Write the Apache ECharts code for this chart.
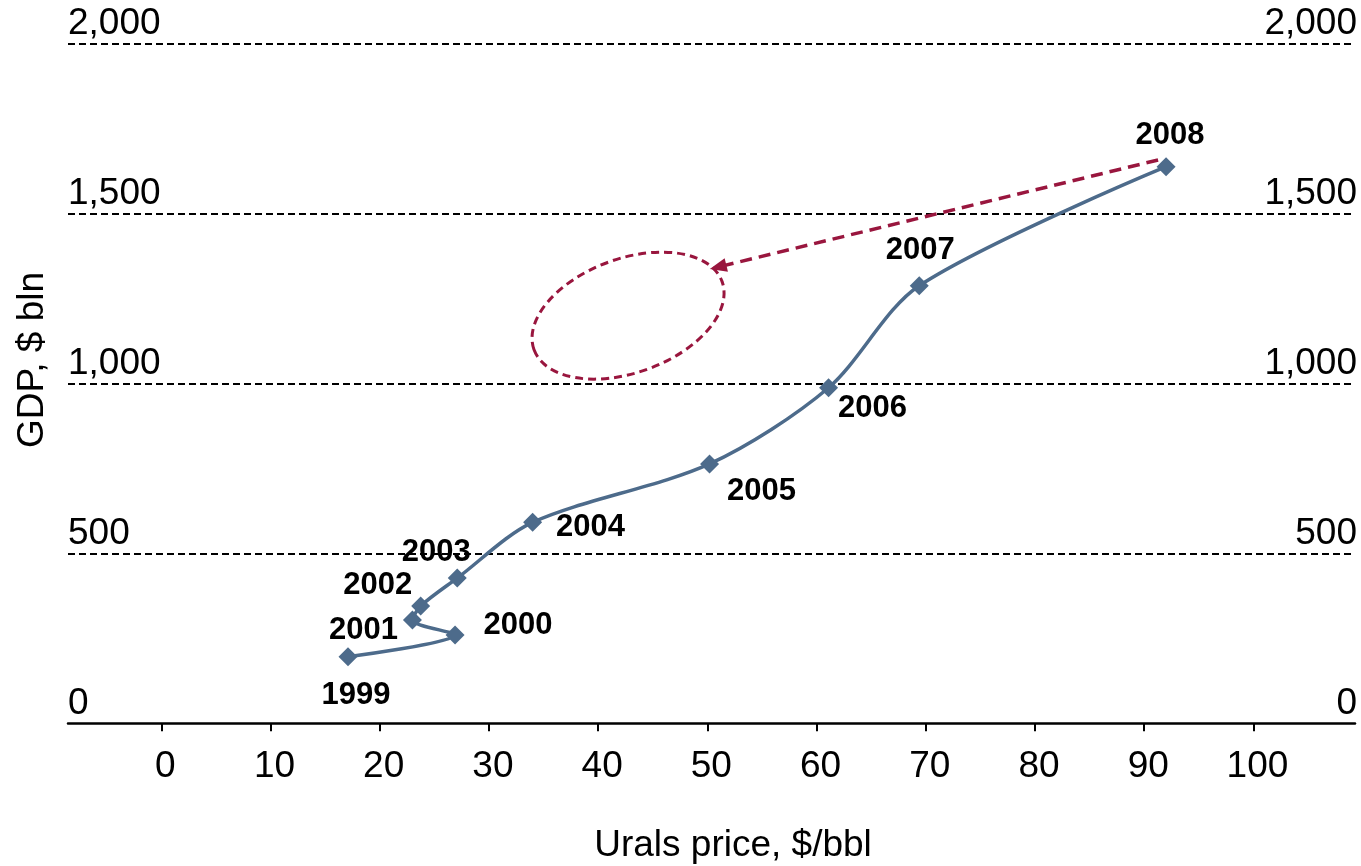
<!DOCTYPE html>
<html>
<head>
<meta charset="utf-8">
<script src="https://cdn.jsdelivr.net/npm/echarts@6/dist/echarts.min.js"></script>
<style>
  html, body { margin: 0; padding: 0; background: #ffffff; }
  #chart { width: 1361px; height: 866px; }
</style>
</head>
<body>
<div id="chart"></div>
<script>
// ---- data ----
const years = ['1999', '2000', '2001', '2002', '2003', '2004', '2005', '2006', '2007', '2008'];
const uralsPrice = [17.1, 26.9, 23.0, 23.75, 27.1, 34.0, 50.2, 61.1, 69.4, 92.0];
const gdpBln = [196, 260, 304, 345, 427, 591, 763, 987, 1287, 1637];
const xTickValues = [0, 10, 20, 30, 40, 50, 60, 70, 80, 90, 100];
const yTickValues = [0, 500, 1000, 1500, 2000];
// annotation (data coordinates)
const arrowFrom = [91.27, 1656.8];
const arrowTo = [50.98, 1342];
const ellipseCenter = [42.74, 1199];

// ---- styles (label offsets in px, per year) ----
const labelOffsets = [[8, 39], [63, -9], [-49, 11], [-43, -21], [-21, -26], [58, 5], [52, 28], [44, 21], [1, -35], [4, -31]];

const FONT = 'Liberation Sans, Arial, Helvetica, sans-serif';
const LINE_COLOR = '#4d6b8b';
const RED = '#99163e';

const points = uralsPrice.map((x, i) => ({
  value: [x, gdpBln[i]],
  name: years[i],
  label: { offset: labelOffsets[i] }
}));

const chart = echarts.init(document.getElementById('chart'));
const fmt = v => Number(v).toLocaleString('en-US');

chart.setOption({
  animation: false,
  backgroundColor: '#ffffff',
  grid: { left: 68, right: 6, top: 43.3, bottom: 142.7, containLabel: false },
  xAxis: {
    type: 'value',
    min: -8.54,
    max: 109.3,
    axisLine: { show: true, onZero: false, lineStyle: { color: '#000', width: 2.5 } },
    axisTick: { show: true, length: 8, customValues: xTickValues, lineStyle: { color: '#000', width: 2 } },
    axisLabel: { customValues: xTickValues, margin: 25, color: '#000', fontSize: 37, fontFamily: FONT, padding: [0, 0, 0, 8] },
    splitLine: { show: false },
    z: 4
  },
  yAxis: [{
    type: 'value',
    position: 'left',
    min: 0, max: 2000, interval: 500,
    axisLine: { show: false },
    axisTick: { show: false },
    axisLabel: {
      inside: true, margin: 0, align: 'left', verticalAlign: 'bottom',
      lineHeight: 40, color: '#000', fontSize: 37, fontFamily: FONT,
      formatter: fmt
    },
    splitLine: { show: true, showMinLine: false, lineStyle: { color: '#000', width: 1.8, type: [7, 4] } }
  }, {
    type: 'value',
    position: 'right',
    min: 0, max: 2000, interval: 500,
    axisLine: { show: false },
    axisTick: { show: false },
    axisLabel: {
      inside: true, margin: -2, align: 'right', verticalAlign: 'bottom',
      lineHeight: 40, color: '#000', fontSize: 37, fontFamily: FONT,
      formatter: fmt
    },
    splitLine: { show: false }
  }],
  graphic: [{
    type: 'text',
    x: 33, y: 360,
    rotation: Math.PI / 2,
    style: { text: 'GDP, $ bln', fill: '#000', font: '37px ' + FONT, align: 'center', verticalAlign: 'middle' }
  }, {
    type: 'text',
    x: 733, y: 846,
    style: { text: 'Urals price, $/bbl', fill: '#000', font: '37px ' + FONT, align: 'center', verticalAlign: 'middle' }
  }],
  series: [{
    type: 'custom',
    coordinateSystem: 'cartesian2d',
    silent: true,
    data: [ellipseCenter],
    renderItem: function (params, api) {
      const c = api.coord([api.value(0), api.value(1)]);
      return {
        type: 'ellipse',
        x: c[0], y: c[1],
        rotation: 0.347,
        shape: { cx: 0, cy: 0, rx: 100, ry: 57 },
        style: { fill: 'none', stroke: RED, lineWidth: 3, lineDash: [8, 5] }
      };
    },
    markLine: {
      silent: true,
      symbol: ['none', 'triangle'],
      symbolSize: [14, 17],
      label: { show: false },
      lineStyle: { color: RED, width: 3.5, type: [12, 7] },
      data: [[{ coord: arrowFrom }, { coord: arrowTo }]]
    }
  }, {
    type: 'line',
    data: points,
    smooth: 0.3,
    symbol: 'diamond',
    symbolSize: 19,
    itemStyle: { color: LINE_COLOR },
    lineStyle: { color: LINE_COLOR, width: 3.5 },
    label: {
      show: true,
      position: 'inside',
      align: 'center',
      verticalAlign: 'middle',
      formatter: p => p.name,
      color: '#000',
      fontSize: 31,
      fontWeight: 'bold',
      fontFamily: FONT
    },
    z: 3
  }]
});
</script>
</body>
</html>
